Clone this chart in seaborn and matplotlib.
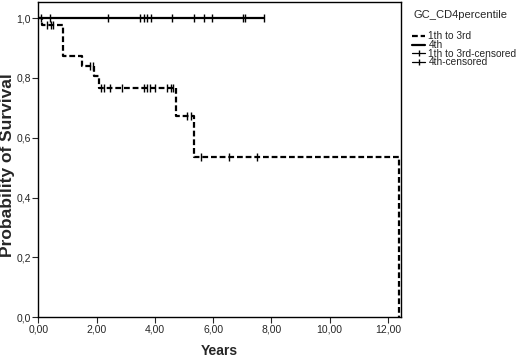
"""
Kaplan-Meier style survival curves by GC_CD4percentile group
"""

import numpy as np
import pandas as pd
import matplotlib
matplotlib.use('Agg')
import matplotlib.pyplot as plt
from matplotlib.lines import Line2D
import seaborn as sns

# step points (time in years, survival after the step)
low_times = [0, 0.12, 0.86, 1.49, 1.92, 2.07, 4.71, 5.36, 12.37]
low_surv = [1.0, 0.977, 0.874, 0.840, 0.805, 0.767, 0.674, 0.537, 0.0]
high_times = [0, 7.75]
high_surv = [1.0, 1.0]

# censored observations
low_cens = [0.31, 0.43, 0.52, 1.78, 1.89, 2.14, 2.24, 2.47, 2.87, 3.62, 3.73,
            3.85, 4.02, 4.42, 4.54, 4.62, 5.11, 5.25, 5.57, 6.55, 7.50]
high_cens = [0.08, 0.40, 2.38, 3.48, 3.62, 3.73, 3.87, 4.58, 5.36, 5.68, 5.97,
             7.01, 7.09, 7.75]

groups = ['1th to 3rd', '4th']
x_ticks = [0, 2, 4, 6, 8, 10, 12]
y_ticks = [0.0, 0.2, 0.4, 0.6, 0.8, 1.0]


def surv_at(times, surv, t):
    idx = np.searchsorted(times, t, side='right') - 1
    return np.asarray(surv)[idx]


df_steps = pd.concat([
    pd.DataFrame({'Years': low_times, 'Survival': low_surv, 'group': groups[0]}),
    pd.DataFrame({'Years': high_times, 'Survival': high_surv, 'group': groups[1]}),
], ignore_index=True)

df_cens = pd.concat([
    pd.DataFrame({'Years': low_cens, 'Survival': surv_at(low_times, low_surv, low_cens), 'group': groups[0]}),
    pd.DataFrame({'Years': high_cens, 'Survival': surv_at(high_times, high_surv, high_cens), 'group': groups[1]}),
], ignore_index=True)

sns.set_style('white')
plt.rcParams['font.family'] = ['Liberation Sans', 'DejaVu Sans']

fig = plt.figure(figsize=(5.2, 3.58), dpi=100)
ax = fig.add_axes([38.3 / 520, 1 - 317.3 / 358, (400.7 - 38.3) / 520, (317.3 - 1.7) / 358])

dash_pat = (2.6, 1.3)
sns.lineplot(data=df_steps, x='Years', y='Survival', style='group',
             dashes={groups[0]: dash_pat, groups[1]: ''}, color='black',
             estimator=None, sort=False, drawstyle='steps-post', lw=1.6,
             legend=False, ax=ax)
sns.scatterplot(data=df_cens, x='Years', y='Survival', marker='|', s=30,
                color='black', linewidth=1.0, legend=False, ax=ax)

ax.set_xlim(0, 12.44)
ax.set_ylim(0, 1.055)
ax.set_xticks(x_ticks)
ax.set_xticklabels([f'{v:.2f}'.replace('.', ',') for v in x_ticks], fontsize=7.5)
ax.set_yticks(y_ticks)
ax.set_yticklabels([f'{v:.1f}'.replace('.', ',') for v in y_ticks], fontsize=7.5)
ax.tick_params(direction='out', length=4, width=0.8, left=True, bottom=True, pad=1.5)
for sp in ax.spines.values():
    sp.set_color('black')
    sp.set_linewidth(1.0)

ax.set_xlabel('Years', fontsize=10, fontweight='bold', labelpad=6.5)
ax.set_ylabel('Probability of Survival', fontsize=12.5, fontweight='bold')
ax.yaxis.set_label_coords(-0.063, 0.483)

# legend: title drawn separately to get the wider gap below it
fig.text(461 / 520, 1 - 15 / 358, 'GC_CD4percentile', fontsize=8,
         ha='center', va='center')
handles = [
    Line2D([0], [0], color='black', lw=1.6, dashes=dash_pat),
    Line2D([0], [0], color='black', lw=1.6),
    Line2D([0], [0], color='black', lw=0.9, marker='|', markersize=5, markeredgewidth=1),
    Line2D([0], [0], color='black', lw=0.9, marker='|', markersize=5, markeredgewidth=1),
]
labels = ['1th to 3rd', '4th', '1th to 3rd-censored', '4th-censored']
leg = fig.legend(handles, labels, loc='upper left',
                 bbox_to_anchor=(405 / 520, 1 - 24 / 358), frameon=False,
                 fontsize=7.3, handlelength=1.3, borderpad=0.2,
                 handleheight=0.5, numpoints=1, handletextpad=0.3,
                 labelspacing=-0.12)

plt.savefig('out.png', dpi=100)
plt.close()
